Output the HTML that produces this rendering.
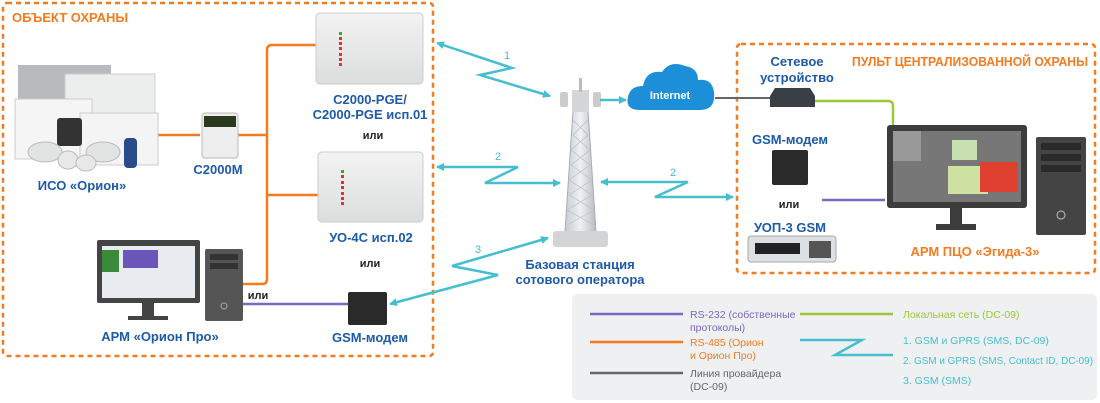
<!DOCTYPE html>
<html><head><meta charset="utf-8"><style>
html,body{margin:0;padding:0;background:#fff;width:1100px;height:403px;overflow:hidden}
svg{display:block}
text{font-family:"Liberation Sans","DejaVu Sans",sans-serif}
.b{fill:#1d5aa8;font-weight:bold;font-size:13px}
.o{fill:#f47b20;font-weight:bold;font-size:13px}
.k{fill:#222;font-weight:bold;font-size:11px}
.c{fill:#45bfcf;font-size:11px}
.l{font-size:10.5px}
</style></head><body>
<svg width="1100" height="403" viewBox="0 0 1100 403">
<defs>
<marker id="a" markerWidth="8" markerHeight="8" refX="7" refY="4" orient="auto-start-reverse" markerUnits="userSpaceOnUse"><path d="M0,0L8,4L0,8z" fill="#45bfcf"/></marker>
<linearGradient id="dev" x1="0" y1="0" x2="0" y2="1"><stop offset="0" stop-color="#f2f3f2"/><stop offset="1" stop-color="#dcdedd"/></linearGradient>
<linearGradient id="tw" x1="0" y1="0" x2="1" y2="0"><stop offset="0" stop-color="#c8ccd0"/><stop offset=".5" stop-color="#eef0f2"/><stop offset="1" stop-color="#b8bcc0"/></linearGradient>
</defs>
<!-- boxes -->
<rect x="3" y="3" width="430" height="353" rx="4" fill="none" stroke="#f47b20" stroke-width="2.5" stroke-dasharray="5,4"/>
<rect x="737" y="44" width="358" height="229" rx="4" fill="none" stroke="#f47b20" stroke-width="2.5" stroke-dasharray="5,4"/>
<text x="12" y="22" class="o" font-weight="normal">ОБЪЕКТ ОХРАНЫ</text>
<text x="852" y="66" class="o" font-weight="normal" textLength="236" lengthAdjust="spacingAndGlyphs">ПУЛЬТ ЦЕНТРАЛИЗОВАННОЙ ОХРАНЫ</text>

<!-- orange wiring -->
<g fill="none" stroke="#f47b20" stroke-width="2.5">
<path d="M157,135H200M238,135H267"/>
<path d="M316,45H272Q267,45 267,50V279Q267,284 262,284H243"/>
<path d="M267,195H318"/>
</g>
<path d="M243,304H348" stroke="#7b68c0" stroke-width="2.5"/>
<path d="M822,200H885" stroke="#7b68c0" stroke-width="2.5"/>
<path d="M815,101H888Q893,101 893,106V128" fill="none" stroke="#9cc83a" stroke-width="2.5"/>
<path d="M715,98H770" stroke="#666" stroke-width="2"/>

<!-- ISO Orion devices -->
<rect x="18" y="65" width="93" height="50" fill="#b8bbbe"/>
<rect x="65" y="74" width="90" height="45" fill="#eceeed" stroke="#ccc"/>
<rect x="15" y="99" width="77" height="60" fill="#f4f5f4" stroke="#ccc"/>
<rect x="80" y="113" width="78" height="52" fill="#f3f4f3" stroke="#ccc"/>
<rect x="57" y="118" width="25" height="28" rx="3" fill="#333"/>
<rect x="124" y="138" width="13" height="30" rx="4" fill="#2a4b8a"/>
<ellipse cx="45" cy="152" rx="17" ry="10" fill="#e2e4e4" stroke="#bbb"/>
<ellipse cx="103" cy="152" rx="17" ry="10" fill="#e2e4e4" stroke="#bbb"/>
<ellipse cx="68" cy="160" rx="10" ry="9" fill="#e8e8e8" stroke="#bbb"/>
<ellipse cx="86" cy="163" rx="10" ry="8" fill="#e8e8e8" stroke="#bbb"/>
<text x="82" y="190" class="b" text-anchor="middle">ИСО «Орион»</text>

<!-- C2000M -->
<rect x="202" y="113" width="36" height="45" rx="3" fill="#eee" stroke="#bbb"/>
<rect x="204" y="116" width="32" height="11" fill="#2b3a1e"/>
<text x="218" y="174" class="b" text-anchor="middle">С2000М</text>

<!-- PGE / UO-4C -->
<rect x="316" y="13" width="107" height="71" rx="4" fill="url(#dev)" stroke="#ccc"/>
<rect x="318" y="152" width="105" height="70" rx="4" fill="url(#dev)" stroke="#ccc"/>
<g fill="#d33"><rect x="339" y="32" width="3" height="3" fill="#3a3"/><rect x="339" y="37" width="3" height="3"/><rect x="339" y="42" width="3" height="3"/><rect x="339" y="47" width="3" height="3"/><rect x="339" y="53" width="3" height="3"/><rect x="339" y="58" width="3" height="3"/><rect x="339" y="63" width="3" height="3"/>
<rect x="341" y="170" width="3" height="3" fill="#3a3"/><rect x="341" y="175" width="3" height="3"/><rect x="341" y="181" width="3" height="3"/><rect x="341" y="186" width="3" height="3"/><rect x="341" y="192" width="3" height="3"/><rect x="341" y="197" width="3" height="3"/><rect x="341" y="202" width="3" height="3"/></g>
<text x="370" y="104" class="b" text-anchor="middle">С2000-PGE/</text>
<text x="370" y="119" class="b" text-anchor="middle">С2000-PGE исп.01</text>
<text x="373" y="139" class="k" text-anchor="middle">или</text>
<text x="371" y="242" class="b" text-anchor="middle">УО-4С исп.02</text>
<text x="370" y="267" class="k" text-anchor="middle">или</text>

<!-- GSM modem left -->
<rect x="348" y="292" width="39" height="33" rx="2" fill="#2a2a2a"/>
<text x="370" y="342" class="b" text-anchor="middle">GSM-модем</text>
<text x="258" y="299" class="k" text-anchor="middle">или</text>

<!-- ARM Orion Pro -->
<rect x="97" y="240" width="103" height="63" rx="2" fill="#444"/>
<rect x="102" y="246" width="93" height="52" fill="#e8ecf0"/>
<rect x="102" y="250" width="17" height="22" fill="#3a8a3a"/><rect x="123" y="250" width="35" height="18" fill="#6a55b8"/>
<rect x="142" y="303" width="12" height="14" fill="#444"/><rect x="128" y="316" width="40" height="4" fill="#444"/>
<rect x="205" y="249" width="38" height="72" rx="2" fill="#555"/>
<rect x="210" y="254" width="28" height="6" fill="#333"/><rect x="210" y="263" width="28" height="6" fill="#333"/>
<circle cx="224" cy="306" r="3" fill="none" stroke="#aaa"/>
<text x="160" y="341" class="b" text-anchor="middle">АРМ «Орион Про»</text>

<!-- Tower -->
<path d="M573,110L565,232H596L588,110Z" fill="url(#tw)" stroke="#aab" stroke-width="1"/>
<g stroke="#bbc" stroke-width=".7" fill="none"><path d="M573,120L588,135L571,150L590,165L569,180L592,195L567,210L594,225M588,120L573,135L590,150L571,165L592,180L569,195L594,210L567,225"/></g>
<rect x="560" y="92" width="8" height="15" rx="2" fill="#ccc"/><rect x="593" y="92" width="8" height="15" rx="2" fill="#ccc"/>
<rect x="572" y="90" width="17" height="22" fill="#d4d6d8"/><rect x="579" y="78" width="3" height="14" fill="#bbb"/>
<rect x="553" y="231" width="55" height="16" rx="3" fill="#d2d4d6"/>
<text x="580" y="269" class="b" text-anchor="middle">Базовая станция</text>
<text x="580" y="284" class="b" text-anchor="middle">сотового оператора</text>

<!-- cloud -->
<path d="M640,110Q625,110 628,97Q630,86 643,86Q646,70 662,72Q670,60 685,66Q698,68 698,80Q712,78 714,92Q716,110 700,110Z" fill="#1d8fd8"/>
<text x="670" y="99" fill="#fff" font-size="11" font-weight="bold" text-anchor="middle">Internet</text>
<path d="M600,100H626" stroke="#45bfcf" stroke-width="2.5" marker-end="url(#a)"/>

<!-- zigzags -->
<g fill="none" stroke="#45bfcf" stroke-width="2.5">
<path d="M437,43L512,68L480,75L550,96" marker-start="url(#a)" marker-end="url(#a)"/>
<path d="M437,167H518L485,183H560" marker-start="url(#a)" marker-end="url(#a)"/>
<path d="M601,182H688L655,197H733" marker-start="url(#a)" marker-end="url(#a)"/>
<path d="M390,304L498,275L452,266L548,238" marker-start="url(#a)" marker-end="url(#a)"/>
</g>
<text x="504" y="59" class="c">1</text><text x="495" y="160" class="c">2</text>
<text x="670" y="176" class="c">2</text><text x="475" y="253" class="c">3</text>

<!-- right side devices -->
<text x="797" y="66" class="b" text-anchor="middle">Сетевое</text>
<text x="797" y="82" class="b" text-anchor="middle">устройство</text>
<path d="M770,96L775,88H810L815,96V107H770Z" fill="#3a3f45"/>
<text x="790" y="144" class="b" text-anchor="middle">GSM-модем</text>
<rect x="772" y="150" width="36" height="35" rx="2" fill="#2a2a2a"/>
<text x="789" y="208" class="k" text-anchor="middle">или</text>
<text x="790" y="232" class="b" text-anchor="middle">УОП-3 GSM</text>
<rect x="748" y="236" width="88" height="26" rx="3" fill="#dde0e2" stroke="#aaa"/>
<rect x="755" y="243" width="45" height="11" fill="#222"/>
<rect x="809" y="241" width="22" height="17" fill="#555"/>

<rect x="887" y="125" width="140" height="83" rx="3" fill="#3c3c3c"/>
<rect x="893" y="131" width="128" height="71" fill="#777"/>
<rect x="893" y="131" width="28" height="30" fill="#999"/><rect x="952" y="140" width="25" height="20" fill="#c8e0b0"/>
<rect x="948" y="166" width="40" height="28" fill="#cde2a0"/><rect x="980" y="162" width="38" height="30" fill="#e04030"/>
<rect x="950" y="208" width="12" height="17" fill="#3c3c3c"/><rect x="936" y="224" width="40" height="6" fill="#3c3c3c"/>
<rect x="1036" y="137" width="50" height="98" rx="2" fill="#444"/>
<rect x="1041" y="143" width="40" height="7" fill="#2a2a2a"/><rect x="1041" y="154" width="40" height="7" fill="#2a2a2a"/><rect x="1041" y="165" width="40" height="7" fill="#2a2a2a"/>
<circle cx="1061" cy="215" r="4" fill="none" stroke="#aaa" stroke-width="1.2"/>
<text x="975" y="256" class="o" text-anchor="middle">АРМ ПЦО «Эгида-3»</text>

<!-- legend -->
<rect x="572" y="294" width="525" height="106" rx="6" fill="#eef0f1"/>
<path d="M590,314H683" stroke="#7b68c0" stroke-width="2.5"/>
<path d="M590,342H683" stroke="#f47b20" stroke-width="2.5"/>
<path d="M590,373H683" stroke="#666" stroke-width="2.5"/>
<path d="M800,314H893" stroke="#9cc83a" stroke-width="2.5"/>
<path d="M800,340H862L835,355H893" fill="none" stroke="#45bfcf" stroke-width="2.5"/>
<g class="l">
<text x="690" y="318" fill="#7b68c0">RS-232 (собственные</text><text x="690" y="331" fill="#7b68c0">протоколы)</text>
<text x="690" y="346" fill="#f47b20">RS-485 (Орион</text><text x="690" y="359" fill="#f47b20">и Орион Про)</text>
<text x="690" y="377" fill="#666">Линия провайдера</text><text x="690" y="390" fill="#666">(DC-09)</text>
<text x="903" y="318" fill="#9cc83a">Локальная сеть (DC-09)</text>
<text x="903" y="344" fill="#45bfcf">1. GSM  и  GPRS (SMS, DC-09)</text>
<text x="903" y="364" fill="#45bfcf" textLength="190" lengthAdjust="spacingAndGlyphs">2. GSM и GPRS (SMS, Contact ID,  DC-09)</text>
<text x="903" y="384" fill="#45bfcf">3. GSM (SMS)</text>
</g>
</svg>
</body></html>
